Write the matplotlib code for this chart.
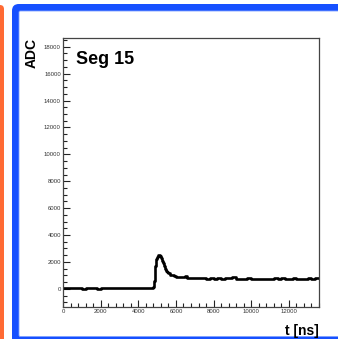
import matplotlib
matplotlib.use("Agg")
import matplotlib.pyplot as plt
from matplotlib.patches import FancyBboxPatch
from matplotlib.ticker import MultipleLocator

# ---- data ----
times = [0, 200, 400, 600, 800, 1000, 1200, 1400, 1600, 1800, 2000, 2200, 2400,
         2600, 2800, 3000, 3200, 3400, 3600, 3800, 4000, 4200, 4400, 4600, 4800,
         4850, 4900, 4950, 5000, 5050, 5100, 5150, 5200, 5250, 5300, 5350, 5400,
         5450, 5500, 5600, 5700, 5800, 5900, 6000, 6200, 6400, 6500, 6600, 6800,
         7000, 7200, 7400, 7600, 7800, 8000, 8200, 8400, 8600, 8800, 9000, 9200,
         9400, 9600, 9800, 10000, 10200, 10400, 10600, 10800, 11000, 11200, 11400,
         11600, 11800, 12000, 12200, 12400, 12600, 12800, 13000, 13200, 13400]
adc = [40, 60, 30, 50, 40, 10, 40, 60, 30, 20, 50, 40, 60,
       30, 70, 50, 40, 80, 50, 60, 90, 60, 80, 70, 120,
       600, 1700, 2200, 2350, 2500, 2550, 2450, 2300, 2100, 1900, 1700, 1500,
       1350, 1250, 1150, 1050, 1000, 920, 870, 850, 860, 950, 820, 800,
       790, 830, 780, 760, 780, 760, 770, 750, 770, 790, 870, 760,
       750, 740, 770, 760, 700, 730, 750, 760, 720, 770, 750,
       780, 760, 730, 770, 740, 720, 760, 780, 740, 800]
t_end = 13600
title_text = "Seg 15"
xlabel_text = "t [ns]"
ylabel_text = "ADC"

W, H = 338, 339
fig = plt.figure(figsize=(W / 100, H / 100), dpi=100)
fig.patch.set_facecolor("white")

def fx(px):
    return px / W

def fy(py):
    return 1 - py / H

# ---- decorative frame ----
orange = "#FF6A33"
blue = "#1650FF"
fig.patches.append(FancyBboxPatch((fx(-10), fy(339 + 10)), fx(14), (339 + 10 - 5) / H,
                                  boxstyle="round,pad=0,rounding_size=0.012",
                                  transform=fig.transFigure, facecolor=orange,
                                  edgecolor="none", zorder=-5))
fig.patches.append(FancyBboxPatch((fx(12), fy(345)), fx(345 - 12 + 20), (345 - 4) / H,
                                  boxstyle="round,pad=0,rounding_size=0.02",
                                  transform=fig.transFigure, facecolor=blue,
                                  edgecolor="none", zorder=-5))
fig.patches.append(FancyBboxPatch((fx(19), fy(336.5)), fx(360 - 19), (336.5 - 11) / H,
                                  boxstyle="round,pad=0,rounding_size=0.004",
                                  transform=fig.transFigure, facecolor="white",
                                  edgecolor="#7FA0FF", linewidth=0.6, zorder=-4))

# ---- axes ----
ax = fig.add_axes([fx(63), fy(307), fx(319 - 63), (307 - 38) / H])
ax.set_zorder(5)
ax.set_facecolor("white")
ax.step(times + [t_end], adc + [adc[-1]], where="post", color="black", linewidth=1.9)
ax.set_xlim(0, t_end)
ax.set_ylim(-1350, 18650)

ax.xaxis.set_major_locator(MultipleLocator(2000))
ax.xaxis.set_minor_locator(MultipleLocator(400))
ax.yaxis.set_major_locator(MultipleLocator(2000))
ax.yaxis.set_minor_locator(MultipleLocator(500))
ax.tick_params(which="both", direction="in", width=0.8, color="#222222")
ax.tick_params(which="major", length=5)
ax.tick_params(which="minor", length=3)
ax.tick_params(axis="y", which="both", right=False, pad=1.5)
ax.tick_params(axis="x", which="both", top=False, pad=1.5)
for lab in ax.get_xticklabels() + ax.get_yticklabels():
    lab.set_fontsize(4.3)
    lab.set_family("Liberation Sans")
    lab.set_color("#333333")
for s in ax.spines.values():
    s.set_linewidth(0.9)
    s.set_color("#444444")

ax.text(0.05, 0.95, title_text, transform=ax.transAxes, fontsize=13,
        fontweight="bold", family="Liberation Sans", ha="left", va="top")
fig.text(fx(32), fy(38), ylabel_text, rotation=90, fontsize=10, fontweight="bold",
         family="Liberation Sans", ha="center", va="top", zorder=10)
fig.text(fx(319), fy(335), xlabel_text, fontsize=10, fontweight="bold",
         family="Liberation Sans", ha="right", va="baseline", zorder=10)

fig.savefig("out.png", dpi=100)
